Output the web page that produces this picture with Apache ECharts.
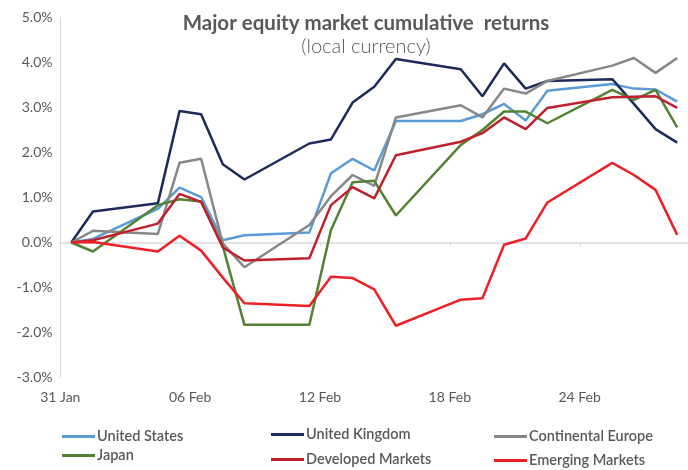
<!DOCTYPE html>
<html>
<head>
<meta charset="utf-8">
<script src="https://cdn.jsdelivr.net/npm/echarts@6/dist/echarts.min.js"></script>
<style>
html,body{margin:0;padding:0;background:#fff;}
#chart{width:688px;height:470px;}
</style>
</head>
<body>
<div id="chart"></div>
<script>
// Calendar days shown on the axis (one slot per day)
const allDays = ['31 Jan','01 Feb','02 Feb','03 Feb','04 Feb','05 Feb','06 Feb','07 Feb','08 Feb','09 Feb','10 Feb','11 Feb','12 Feb','13 Feb','14 Feb','15 Feb','16 Feb','17 Feb','18 Feb','19 Feb','20 Feb','21 Feb','22 Feb','23 Feb','24 Feb','25 Feb','26 Feb','27 Feb','28 Feb'];
// Trading days with observations
const tradingDays = ['31 Jan','01 Feb','04 Feb','05 Feb','06 Feb','07 Feb','08 Feb','11 Feb','12 Feb','13 Feb','14 Feb','15 Feb','18 Feb','19 Feb','20 Feb','21 Feb','22 Feb','25 Feb','26 Feb','27 Feb','28 Feb'];

// Cumulative returns, %
const unitedStates = [0, 0.08, 0.75, 1.22, 1.01, 0.05, 0.16, 0.22, 1.54, 1.86, 1.60, 2.70, 2.70, 2.85, 3.08, 2.71, 3.37, 3.52, 3.42, 3.40, 3.13];
const unitedKingdom = [0, 0.69, 0.87, 2.92, 2.85, 1.74, 1.40, 2.20, 2.29, 3.11, 3.46, 4.08, 3.85, 3.25, 3.98, 3.42, 3.59, 3.63, 3.08, 2.52, 2.22];
const continentalEurope = [0, 0.26, 0.19, 1.77, 1.86, -0.02, -0.55, 0.39, 1.03, 1.50, 1.26, 2.78, 3.05, 2.78, 3.42, 3.31, 3.59, 3.93, 4.10, 3.77, 4.10];
const japan = [0, -0.20, 0.83, 0.96, 0.91, -0.08, -1.83, -1.83, 0.28, 1.34, 1.37, 0.60, 2.17, 2.50, 2.91, 2.91, 2.65, 3.39, 3.17, 3.39, 2.56];
const developedMarkets = [0, 0.05, 0.42, 1.08, 0.90, -0.11, -0.40, -0.35, 0.83, 1.23, 0.98, 1.94, 2.24, 2.43, 2.78, 2.52, 2.99, 3.23, 3.24, 3.25, 2.99];
const emergingMarkets = [0, 0.01, -0.20, 0.15, -0.18, -0.78, -1.35, -1.41, -0.76, -0.79, -1.04, -1.85, -1.27, -1.24, -0.05, 0.09, 0.89, 1.77, 1.50, 1.17, 0.17];

const yTicks = {min: -3, max: 5, step: 1};

const seriesDefs = [
  {name: 'United States', values: unitedStates, color: '#5B9BD5'},
  {name: 'United Kingdom', values: unitedKingdom, color: '#1F2A5C'},
  {name: 'Continental Europe', values: continentalEurope, color: '#878787'},
  {name: 'Japan', values: japan, color: '#548235'},
  {name: 'Developed Markets', values: developedMarkets, color: '#C0202E'},
  {name: 'Emerging Markets', values: emergingMarkets, color: '#EE2027'}
];

// legend layout: column x / row y for each series
const legendCols = [57, 266, 489, 57, 266, 489];
const legendRows = [424, 422, 424, 443, 447, 448];

const FONT = 'Lato, "Open Sans", sans-serif';
const TXT = '#595959';

const chart = echarts.init(document.getElementById('chart'), null, {renderer: 'canvas'});

const option = {
  animation: false,
  backgroundColor: '#fff',
  title: [
    {text: 'Major equity market cumulative  returns', left: 361, top: 8, textAlign: 'center',
     textStyle: {fontFamily: FONT, fontSize: 20.5, fontWeight: 'bold', color: TXT}},
    {text: '(local currency)', left: 361, top: 32, textAlign: 'center',
     textStyle: {fontFamily: FONT, fontSize: 20, fontWeight: 300, color: TXT}}
  ],
  legend: seriesDefs.map((s, i) => ({
    orient: 'horizontal',
    icon: 'rect',
    itemWidth: 33,
    itemHeight: 3,
    left: legendCols[i],
    top: legendRows[i],
    data: [s.name],
    textStyle: {fontFamily: FONT, fontSize: 14.5, fontWeight: 600, color: TXT, padding: [0,0,0,-3]}
  })),
  grid: {left: 60.5, right: -7, top: 17.5, bottom: 92.5, containLabel: false},
  xAxis: [
    {
      type: 'category', data: allDays, boundaryGap: true,
      axisLine: {onZero: true, lineStyle: {color: '#D9D9D9', width: 1.5}},
      axisTick: {show: true, interval: 5, length: 4, lineStyle: {color: '#D9D9D9', width: 1}},
      axisLabel: {show: false},
      splitLine: {show: false}
    },
    {
      type: 'category', data: allDays, boundaryGap: true, position: 'bottom',
      axisLine: {show: false, onZero: false},
      axisTick: {show: false},
      axisLabel: {show: true, interval: 5, margin: 13, padding: [0, 22, 0, 0],
                  fontFamily: FONT, fontSize: 14, color: TXT},
      splitLine: {show: false}
    }
  ],
  yAxis: {
    type: 'value', min: yTicks.min, max: yTicks.max, interval: yTicks.step,
    axisLine: {show: true, lineStyle: {color: '#D9D9D9', width: 1}},
    axisTick: {show: false},
    splitLine: {show: false},
    axisLabel: {margin: 8, fontFamily: FONT, fontSize: 14, color: TXT,
                formatter: v => v.toFixed(1) + '%'}
  },
  series: seriesDefs.map(s => ({
    name: s.name,
    type: 'line',
    xAxisIndex: 0,
    symbol: 'none',
    data: tradingDays.map((d, i) => [d, s.values[i]]),
    itemStyle: {color: s.color},
    lineStyle: {color: s.color, width: 2.5}
  }))
};

chart.setOption(option);
</script>
</body>
</html>
